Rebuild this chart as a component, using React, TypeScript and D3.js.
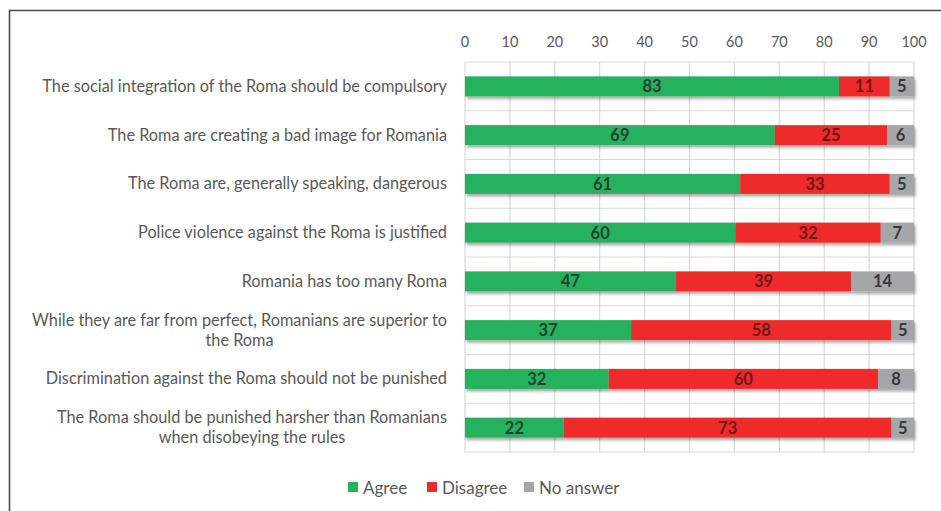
import React, { useEffect, useRef } from "react";
import * as d3 from "d3";

const categories: string[][] = [
  ["The social integration of the Roma should be compulsory"],
  ["The Roma are creating a bad image for Romania"],
  ["The Roma are, generally speaking, dangerous"],
  ["Police violence against the Roma is justified"],
  ["Romania has too many Roma"],
  ["While they are far from perfect, Romanians are superior to", "the Roma"],
  ["Discrimination against the Roma should not be punished"],
  ["The Roma should be punished harsher than Romanians", "when disobeying the rules"],
];
const agree = [83.3, 69, 61.3, 60.2, 47, 37, 32, 22];
const disagree = [11.3, 25, 33.3, 32.4, 39, 58, 60, 73];
const noAnswer = [5.4, 6, 5.4, 7.4, 14, 5, 8, 5];
const seriesNames = ["Agree", "Disagree", "No answer"];
const xTicks = [0, 10, 20, 30, 40, 50, 60, 70, 80, 90, 100];

const colors = ["#27B15F", "#EE2B2B", "#A5A6A8"];
const labelColors = ["#24402F", "#6E1818", "#38383A"];

export default function App() {
  const ref = useRef<SVGSVGElement>(null);
  useEffect(() => {
    const svg = d3.select(ref.current);
    svg.selectAll("*").remove();
    const W = 941, H = 511;
    const font = "Lato, 'Open Sans', sans-serif";

    const defs = svg.append("defs");
    const f = defs.append("filter").attr("id", "sh").attr("x", "-5%").attr("y", "-30%").attr("width", "110%").attr("height", "180%");
    f.append("feDropShadow").attr("dx", 1.5).attr("dy", 2.5).attr("stdDeviation", 1.5).attr("flood-color", "#000").attr("flood-opacity", 0.35);

    svg.append("rect").attr("width", W).attr("height", H).attr("fill", "#fff");
    svg.append("path").attr("d", `M9.5,${H} L9.5,10.5 L${W},10.5`).attr("fill", "none").attr("stroke", "#4a4a4a").attr("stroke-width", 1.6);

    const x = d3.scaleLinear().domain([0, 100]).range([465, 914]);
    const y = d3.scaleBand<number>().domain(d3.range(categories.length)).range([62, 452]).paddingInner(0).paddingOuter(0);
    const barH = 20;

    const grid = svg.append("g");
    xTicks.forEach((t) => {
      grid.append("line").attr("x1", x(t)).attr("x2", x(t)).attr("y1", 62).attr("y2", 452).attr("stroke", "#D9D9D9").attr("stroke-width", 1.2);
    });
    d3.range(categories.length + 1).forEach((i) => {
      const yy = i < categories.length ? y(i)! : 452;
      grid.append("line").attr("x1", x(0)).attr("x2", x(100)).attr("y1", yy).attr("y2", yy).attr("stroke", "#D9D9D9").attr("stroke-width", 1.2);
    });

    svg.append("g").selectAll("text").data(xTicks).join("text")
      .attr("x", (d) => x(d)).attr("y", 47).attr("text-anchor", "middle")
      .attr("font-family", font).attr("font-size", 14.5).attr("fill", "#595959").text((d) => String(d));

    const series = [agree, disagree, noAnswer];
    const bars = svg.append("g");
    categories.forEach((_, i) => {
      let acc = 0;
      const cy = y(i)! + y.bandwidth() / 2;
      const g = bars.append("g").attr("filter", "url(#sh)");
      series.forEach((s, k) => {
        const v = s[i];
        g.append("rect").attr("x", x(acc)).attr("y", cy - barH / 2).attr("width", x(acc + v) - x(acc)).attr("height", barH).attr("fill", colors[k]);
        acc += v;
      });
      acc = 0;
      series.forEach((s, k) => {
        const v = s[i];
        bars.append("text").attr("x", (x(acc) + x(acc + v)) / 2).attr("y", cy + 6).attr("text-anchor", "middle")
          .attr("font-family", font).attr("font-weight", 700).attr("font-size", 16.5).attr("fill", labelColors[k])
          .text(d3.format(".0f")(v));
        acc += v;
      });
    });

    const lab = svg.append("g");
    categories.forEach((lines, i) => {
      const cy = y(i)! + y.bandwidth() / 2;
      const tmp = lab.append("g");
      const texts = lines.map((ln, j) =>
        tmp.append("text").attr("font-family", font).attr("font-size", 16.3).attr("fill", "#595959")
          .attr("text-anchor", "middle").attr("y", cy + 5.5 + (j - (lines.length - 1) / 2) * 20).text(ln)
      );
      const widths = texts.map((t) => (t.node() as SVGTextElement).getComputedTextLength());
      const maxW = d3.max(widths) || 0;
      const cx = 447 - maxW / 2;
      texts.forEach((t) => t.attr("x", cx));
    });

    const legX = [348, 427, 524];
    const leg = svg.append("g");
    seriesNames.forEach((n, k) => {
      leg.append("rect").attr("x", legX[k]).attr("y", 482).attr("width", 10).attr("height", 10).attr("fill", colors[k]);
      leg.append("text").attr("x", legX[k] + 15).attr("y", 493.5).attr("font-family", font).attr("font-size", 17).attr("fill", "#595959").text(n);
    });
  }, []);
  return (
    <svg ref={ref} width={941} height={511} style={{ position: "absolute", left: 0, top: 0, display: "block" }} />
  );
}
